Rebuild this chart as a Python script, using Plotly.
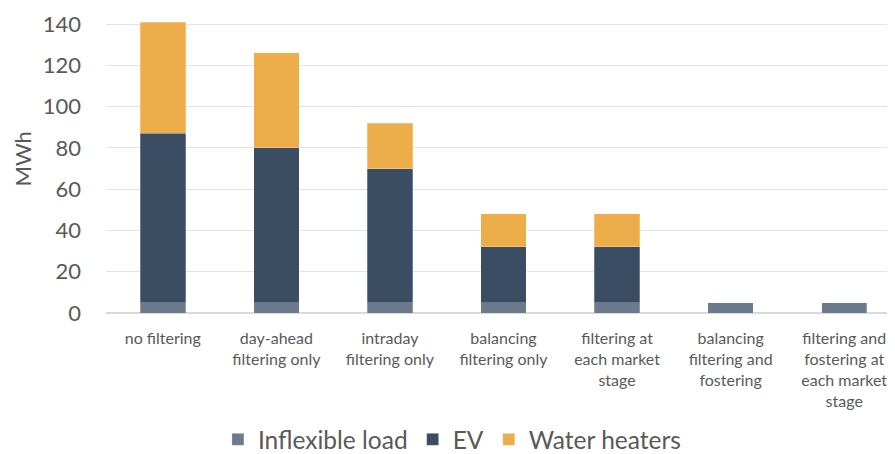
import plotly.graph_objects as go

categories = ["no filtering", "day-ahead<br>filtering only", "intraday<br>filtering only",
              "balancing<br>filtering only", "filtering at<br>each market<br>stage",
              "balancing<br>filtering and<br>fostering", "filtering and<br>fostering at<br>each market<br>stage"]
inflexible = [5, 5, 5, 5, 5, 5, 5]
ev = [82, 75, 65, 27, 27, 0, 0]
water = [54, 46, 22, 16, 16, 0, 0]
yticks = [0, 20, 40, 60, 80, 100, 120, 140]

FONT = "Lato, Open Sans, sans-serif"
GRAY = "#595959"

fig = go.Figure()
fig.add_trace(go.Bar(name="Inflexible load", x=categories, y=inflexible, marker_color="#6b7a8c",
                     marker_line=dict(color="rgba(255,255,255,0.5)", width=0.5)))
fig.add_trace(go.Bar(name="EV", x=categories, y=ev, marker_color="#3a4d63",
                     marker_line=dict(color="rgba(255,255,255,0.5)", width=0.5)))
fig.add_trace(go.Bar(name="Water heaters", x=categories, y=water, marker_color="#edad4a",
                     marker_line=dict(color="rgba(255,255,255,0.5)", width=0.5)))

fig.update_layout(
    barmode="stack",
    bargap=0.6,
    width=895, height=446,
    margin=dict(l=98, r=2, t=14, b=141, autoexpand=False),
    paper_bgcolor="white", plot_bgcolor="white",
    font=dict(family=FONT, color=GRAY),
    showlegend=True,
    legend=dict(orientation="h", xref="container", x=0.496, xanchor="center",
                y=-0.357, yanchor="top",
                font=dict(size=24.5, color=GRAY, family=FONT), traceorder="normal",
                itemwidth=30),
    annotations=[dict(text="MWh", textangle=-90, xref="paper", yref="paper",
                      x=0, y=0.5, xanchor="center", yanchor="middle",
                      xshift=-84, yshift=8, showarrow=False,
                      font=dict(size=22, color=GRAY, family=FONT))],
)
fig.update_yaxes(range=[0, 141], tickvals=yticks, showgrid=True, gridcolor="#e3e3e3",
                 zeroline=True, zerolinecolor="#d9d9d9", tickfont=dict(size=22, color=GRAY),
                 ticks="", ticklen=0, ticklabelstandoff=24, automargin=False)
fig.update_xaxes(tickfont=dict(size=16, color=GRAY), showline=True, linecolor="#d9d9d9",
                 ticks="", tickangle=0, ticklabelstandoff=11, automargin=False)

fig.write_html("out.html")
